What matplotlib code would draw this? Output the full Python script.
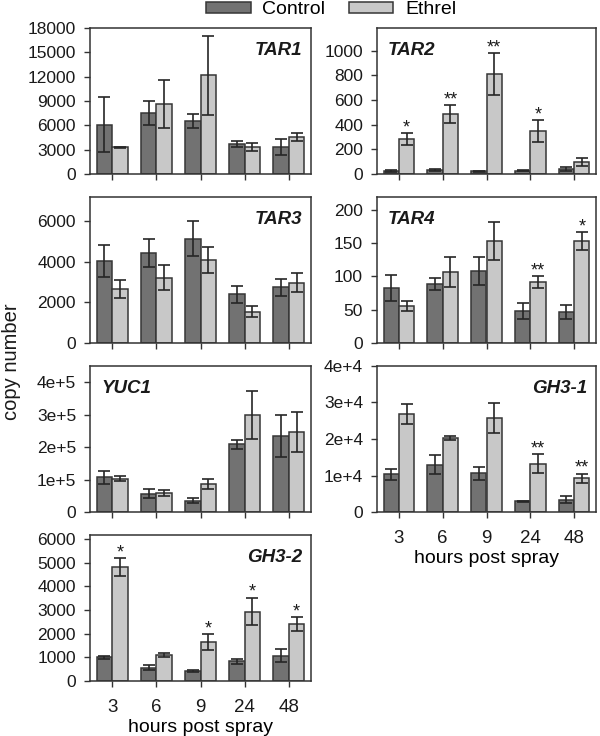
import matplotlib
matplotlib.use('Agg')
import matplotlib.pyplot as plt
from matplotlib.patches import Patch

plt.rcParams['font.family'] = ['Liberation Sans', 'DejaVu Sans']

# horas tras la pulverización
hours = ['3', '6', '9', '24', '48']

# TAR1
tar1_ctrl = [6100, 7550, 6550, 3700, 3300]
tar1_ctrl_err = [3400, 1480, 900, 420, 990]
tar1_eth = [3300, 8650, 12150, 3380, 4560]
tar1_eth_err = [60, 2970, 4820, 500, 450]
tar1_stars = ['', '', '', '', '']

# TAR2
tar2_ctrl = [28, 36, 22, 28, 38]
tar2_ctrl_err = [8, 8, 5, 5, 15]
tar2_eth = [281, 487, 812, 349, 97]
tar2_eth_err = [49, 70, 170, 89, 30]
tar2_stars = ['*', '**', '**', '*', '']

# TAR3
tar3_ctrl = [4050, 4440, 5150, 2400, 2740]
tar3_ctrl_err = [800, 700, 870, 410, 410]
tar3_eth = [2670, 3230, 4100, 1540, 2970]
tar3_eth_err = [430, 620, 640, 280, 460]
tar3_stars = ['', '', '', '', '']

# TAR4
tar4_ctrl = [82.7, 88.2, 107.8, 48.1, 46.6]
tar4_ctrl_err = [20, 8.6, 21, 12, 10]
tar4_eth = [55.6, 106.3, 152.4, 91.7, 152.9]
tar4_eth_err = [8, 22, 28.6, 8.5, 14]
tar4_stars = ['', '', '', '**', '*']

# YUC1
yuc1_ctrl = [106700, 56400, 34900, 209200, 234900]
yuc1_ctrl_err = [19500, 13300, 8200, 14000, 65600]
yuc1_eth = [102600, 58500, 85100, 298500, 247000]
yuc1_eth_err = [7000, 8000, 15400, 75000, 61000]
yuc1_stars = ['', '', '', '', '']

# GH3-1
gh31_ctrl = [10360, 13000, 10550, 3000, 3360]
gh31_ctrl_err = [1550, 2700, 1730, 150, 900]
gh31_eth = [26820, 20270, 25730, 13270, 9270]
gh31_eth_err = [2640, 550, 4180, 2640, 1270]
gh31_stars = ['', '', '', '**', '**']

# GH3-2
gh32_ctrl = [998, 562, 421, 829, 1068]
gh32_ctrl_err = [70, 110, 55, 100, 267]
gh32_eth = [4820, 1082, 1644, 2936, 2402]
gh32_eth_err = [365, 85, 323, 590, 295]
gh32_stars = ['*', '', '*', '*', '*']

# ejes y
tar1_ticks = [0, 3000, 6000, 9000, 12000, 15000, 18000]
tar2_ticks = [0, 200, 400, 600, 800, 1000]
tar3_ticks = [0, 2000, 4000, 6000]
tar4_ticks = [0, 50, 100, 150, 200]
yuc1_ticks = [0, 100000, 200000, 300000, 400000]
yuc1_labels = ['0', '1e+5', '2e+5', '3e+5', '4e+5']
gh31_ticks = [0, 10000, 20000, 30000, 40000]
gh31_labels = ['0', '1e+4', '2e+4', '3e+4', '4e+4']
gh32_ticks = [0, 1000, 2000, 3000, 4000, 5000, 6000]

ctrl_color = '#727272'
eth_color = '#c8c8c8'
edge = '#363636'

fig = plt.figure(figsize=(6, 7.36), dpi=100)
W, H = 600.0, 736.0

def make_ax(x0, x1, top, bottom):
    return fig.add_axes([x0 / W, (H - bottom) / H, (x1 - x0) / W, (bottom - top) / H])

# (nombre, datos, posición, lado de la etiqueta, ylim, ticks, labels, eje x)
panels = [
    ('TAR1', tar1_ctrl, tar1_ctrl_err, tar1_eth, tar1_eth_err, tar1_stars,
     (90, 311, 28, 174), 'right', 18000, tar1_ticks, None, False),
    ('TAR2', tar2_ctrl, tar2_ctrl_err, tar2_eth, tar2_eth_err, tar2_stars,
     (377, 596, 28, 174), 'left', 1185, tar2_ticks, None, False),
    ('TAR3', tar3_ctrl, tar3_ctrl_err, tar3_eth, tar3_eth_err, tar3_stars,
     (90, 311, 197, 343), 'right', 7200, tar3_ticks, None, False),
    ('TAR4', tar4_ctrl, tar4_ctrl_err, tar4_eth, tar4_eth_err, tar4_stars,
     (377, 596, 197, 343), 'left', 219, tar4_ticks, None, False),
    ('YUC1', yuc1_ctrl, yuc1_ctrl_err, yuc1_eth, yuc1_eth_err, yuc1_stars,
     (90, 311, 366, 512), 'left', 450000, yuc1_ticks, yuc1_labels, False),
    ('GH3-1', gh31_ctrl, gh31_ctrl_err, gh31_eth, gh31_eth_err, gh31_stars,
     (377, 596, 366, 512), 'right', 40000, gh31_ticks, gh31_labels, True),
    ('GH3-2', gh32_ctrl, gh32_ctrl_err, gh32_eth, gh32_eth_err, gh32_stars,
     (90, 311, 535, 681), 'right', 6170, gh32_ticks, None, True),
]

w = 0.35
x = list(range(len(hours)))
err_kw = dict(ecolor='#262626', elinewidth=1.2, capsize=4.2, capthick=1.2)

for name, c, ce, e, ee, stars, pos, side, ymax, ticks, labels, xlab in panels:
    ax = make_ax(*pos)
    ax.bar([i - w / 2 for i in x], c, w, yerr=ce, color=ctrl_color,
           edgecolor=edge, linewidth=1.1, error_kw=err_kw)
    ax.bar([i + w / 2 for i in x], e, w, yerr=ee, color=eth_color,
           edgecolor=edge, linewidth=1.1, error_kw=err_kw)
    for i in x:
        if stars[i]:
            ax.annotate(stars[i], (i + w / 2, e[i] + ee[i]), xytext=(0, 0.5),
                        textcoords='offset points', ha='center', va='baseline',
                        fontsize=13, color='#1a1a1a')
    ax.set_xlim(-0.5, len(hours) - 0.5)
    ax.set_ylim(0, ymax)
    ax.set_yticks(ticks)
    if labels:
        ax.set_yticklabels(labels)
    ax.set_xticks(x)
    if xlab:
        ax.set_xticklabels(hours)
        ax.set_xlabel('hours post spray', fontsize=14, labelpad=2)
    else:
        ax.set_xticklabels([])
    ax.tick_params(axis='both', direction='out', length=4, width=1,
                   color='#333333', labelcolor='#1a1a1a')
    ax.tick_params(axis='y', pad=6, labelsize=12.5)
    ax.tick_params(axis='x', pad=9, labelsize=13.5)
    for s in ax.spines.values():
        s.set_color('#333333')
        s.set_linewidth(1.1)
    if side == 'right':
        ax.text(0.96, 0.905, name, transform=ax.transAxes, ha='right', va='top',
                fontsize=13.5, fontweight='bold', fontstyle='italic', color='#1a1a1a')
    else:
        ax.text(0.05, 0.905, name, transform=ax.transAxes, ha='left', va='top',
                fontsize=13.5, fontweight='bold', fontstyle='italic', color='#1a1a1a')

fig.text(12 / W, (H - 362) / H, 'copy number', rotation=90, ha='center',
         va='center', fontsize=14.5, color='#1a1a1a')

handles = [Patch(facecolor=ctrl_color, edgecolor=edge, linewidth=1.1),
           Patch(facecolor=eth_color, edgecolor=edge, linewidth=1.1)]
fig.legend(handles, ['Control', 'Ethrel'], loc='center', ncol=2,
           bbox_to_anchor=(331 / W, (H - 10) / H), frameon=False, fontsize=14,
           handlelength=2.3, handleheight=0.45, handletextpad=0.6,
           columnspacing=1.2, borderpad=0)

fig.savefig('out.png', dpi=100)
